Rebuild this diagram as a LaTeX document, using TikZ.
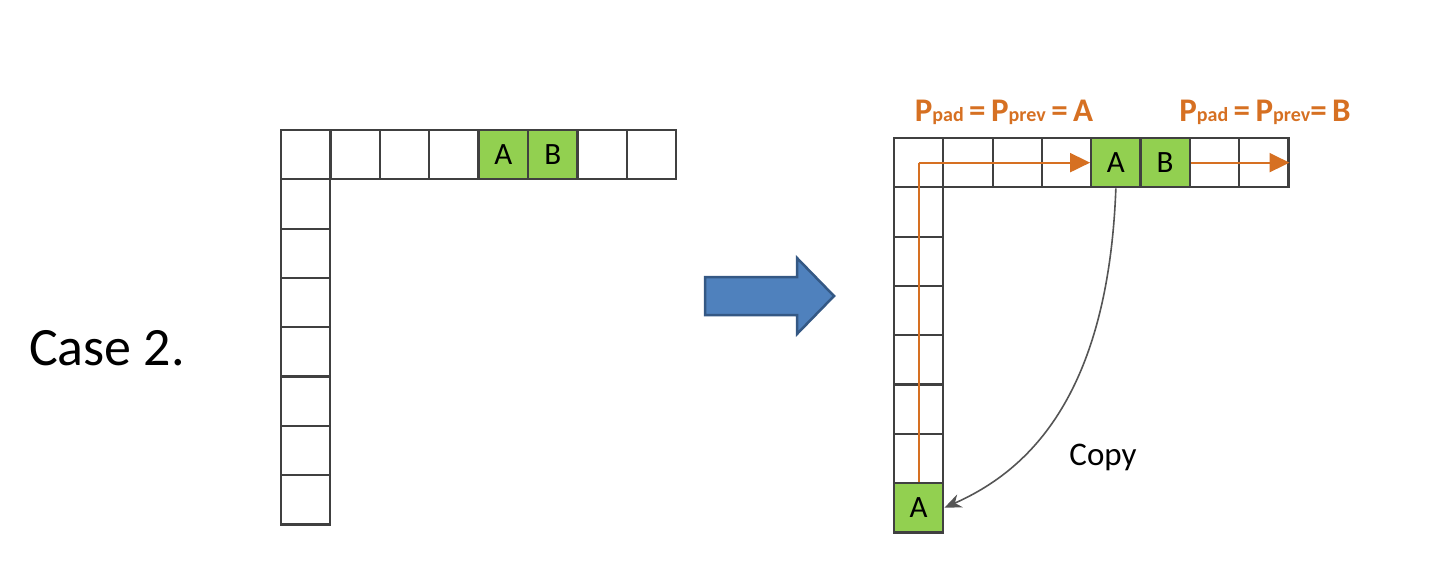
\documentclass[tikz,border=0pt]{standalone}
\usepackage{fontspec}
\setmainfont{Carlito}
\usetikzlibrary{arrows.meta}
\definecolor{cellgreen}{RGB}{146,208,80}
\definecolor{cellline}{RGB}{64,64,64}
\definecolor{orng}{RGB}{214,112,34}
\definecolor{blfill}{RGB}{79,129,189}
\definecolor{bldraw}{RGB}{52,88,132}
\definecolor{copygray}{RGB}{85,85,85}
\newcommand{\Psub}[1]{P{\fontsize{20}{20}\selectfont #1}}
\tikzset{
  cell/.style={draw=cellline, line width=2.2pt, minimum size=49.3pt, inner sep=0pt, fill=white, font=\fontsize{31}{31}\selectfont},
  gcell/.style={cell, fill=cellgreen},
  orarrow/.style={draw=orng, line width=2pt, -{Triangle[length=20pt,width=19pt]}},
  orline/.style={draw=orng, line width=2pt},
  copyarrow/.style={draw=copygray, line width=1.6pt, -{Stealth[length=17pt,width=14pt]}},
  orlabel/.style={text=orng, font=\bfseries\fontsize{33}{33}\selectfont, inner sep=0pt, anchor=base},
}
\begin{document}
\begin{tikzpicture}[x=1pt,y=-1pt]
\useasboundingbox (0,0) rectangle (1440,580);
% left grid
\foreach \i in {0,...,7} {
  \node[cell] (L\i) at ({281+24.7+\i*49.4},154.7) {};
}
\foreach \j in {1,...,7} {
  \node[cell] (LC\j) at (305.7,{154.7+\j*49.3}) {};
}
\node[gcell] (LA) at (L4) {A};
\node[gcell] (LB) at (L5) {B};
% right grid
\foreach \i in {0,...,7} {
  \node[cell] (R\i) at ({894+24.65+\i*49.3},162.65) {};
}
\foreach \j in {1,...,7} {
  \node[cell] (RC\j) at (918.65,{162.65+\j*49.3}) {};
}
\node[gcell] (RA) at (R4) {A};
\node[gcell] (RB) at (R5) {B};
\node[gcell] (RCA) at (RC7) {A};
% orange paths
\draw[orline] (RCA.north) -- (R0.center);
\draw[orarrow] (R0.center) -- (RA.west);
\draw[orarrow] (RB.east) -- (R7.east);
% labels
\node[orlabel] (lab1) at (1004,122) {\Psub{pad}\,=\,\Psub{prev}\,=\,A};
\node[orlabel] (lab2) at (1265,122) {\Psub{pad}\,=\,\Psub{prev}=\,B};
% copy arrow
\draw[copyarrow] (RA.south) .. controls (1108,400) and (1025,472) .. (RCA.east);
\node[font=\fontsize{33}{33}\selectfont] (copy) at (1103,457) {Copy};
% case label
\node[font=\fontsize{54}{54}\selectfont] (case) at (107,348) {Case 2.};
% blue arrow
\draw[fill=blfill, draw=bldraw, line width=2.5pt, line join=miter]
  (705,277) -- (797,277) -- (797,258) -- (834,296) -- (797,334) -- (797,315) -- (705,315) -- cycle;
\end{tikzpicture}
\end{document}
